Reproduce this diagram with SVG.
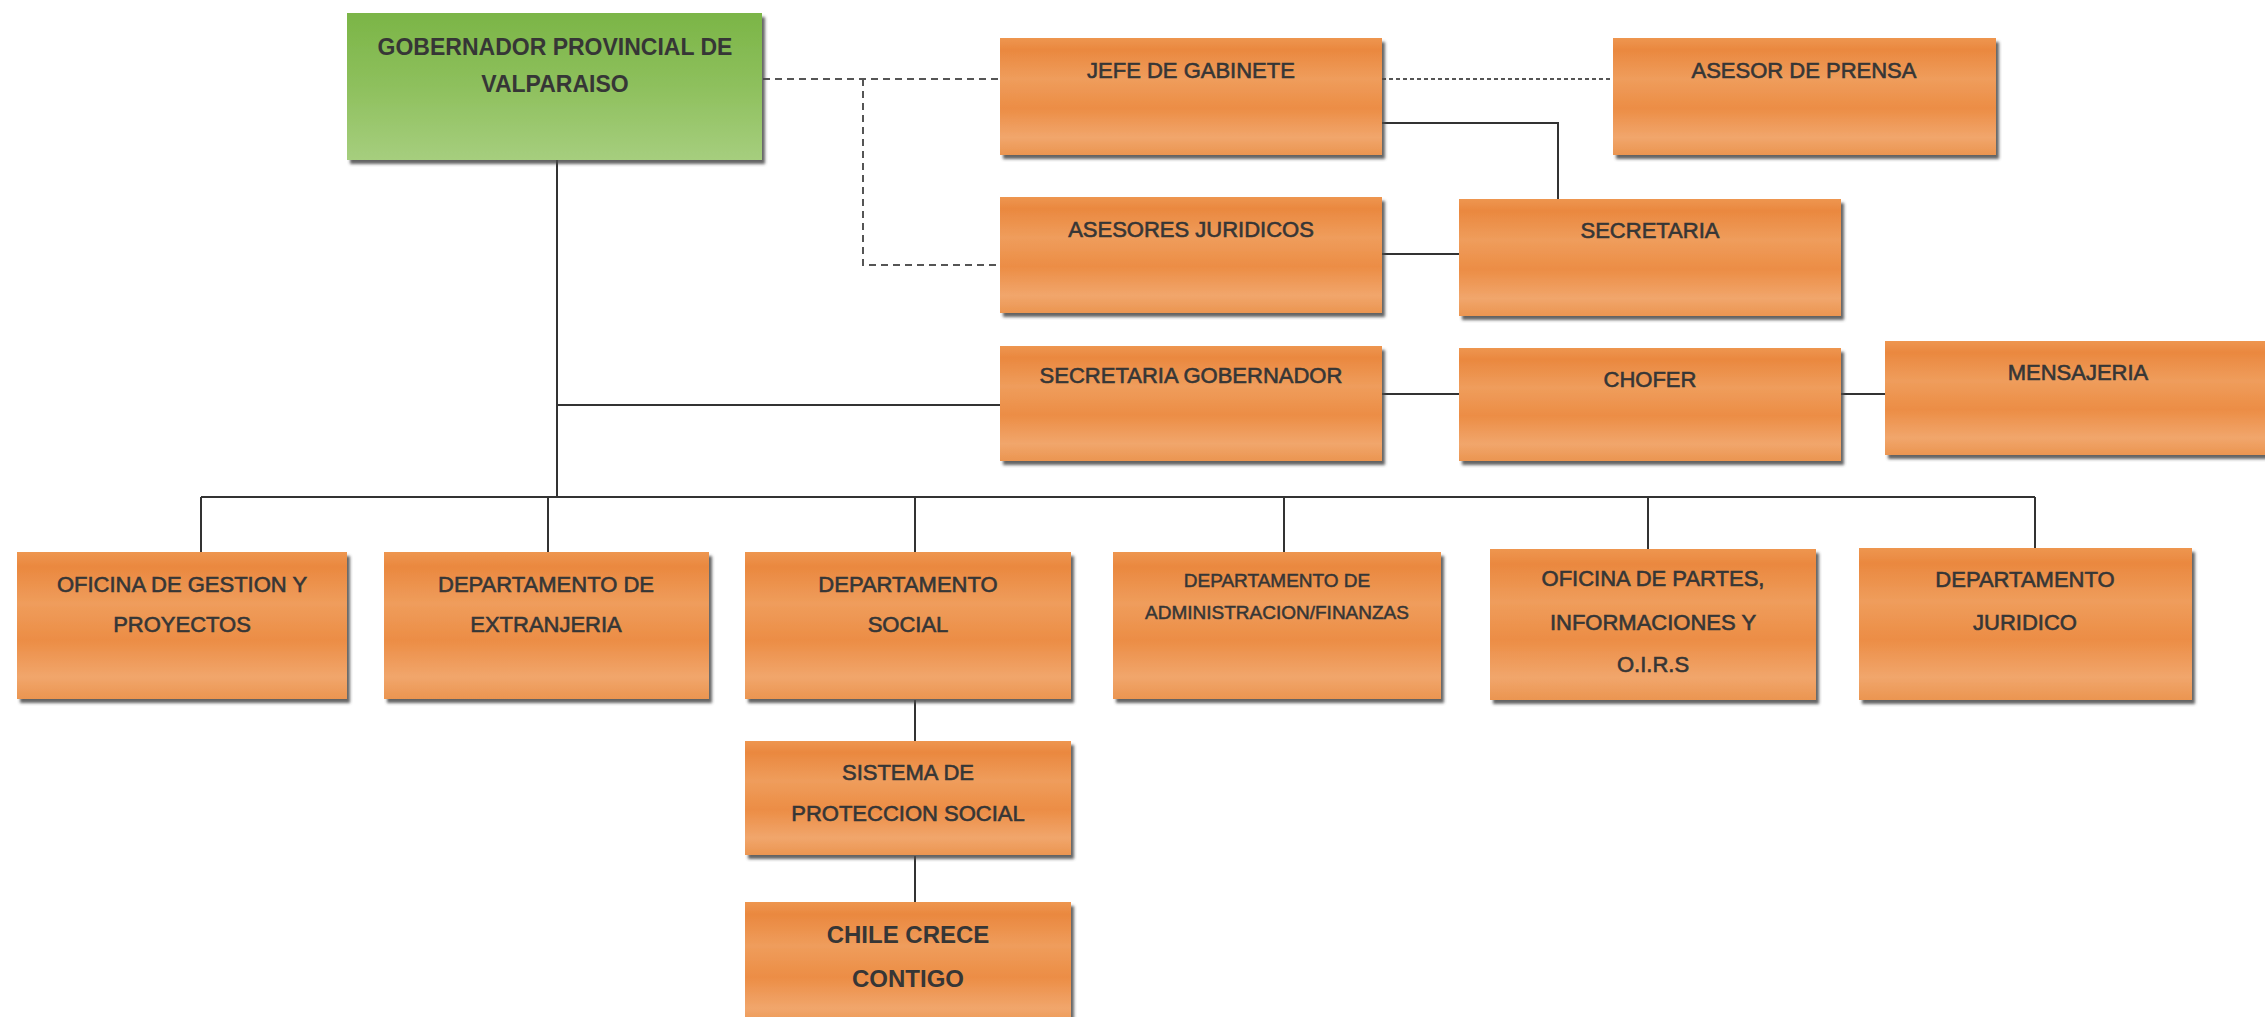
<svg xmlns="http://www.w3.org/2000/svg" width="2265" height="1017" viewBox="0 0 2265 1017">
<defs>
<linearGradient id="og" x1="0" y1="0" x2="0" y2="1">
<stop offset="0" stop-color="#EE9650"/>
<stop offset="0.1" stop-color="#EA883F"/>
<stop offset="0.35" stop-color="#EF9D5C"/>
<stop offset="0.6" stop-color="#EC8D45"/>
<stop offset="0.85" stop-color="#F1A66C"/>
<stop offset="1" stop-color="#EB9550"/>
</linearGradient>
<linearGradient id="gg" x1="0" y1="0" x2="0" y2="1">
<stop offset="0" stop-color="#7BB547"/>
<stop offset="0.5" stop-color="#8EC05D"/>
<stop offset="1" stop-color="#A6CE7E"/>
</linearGradient>
<filter id="sh" x="-5%" y="-5%" width="115%" height="120%">
<feDropShadow dx="3" dy="4" stdDeviation="1.5" flood-color="#4a4a4a" flood-opacity="0.85"/>
</filter>
</defs>
<style>
.box{fill:url(#og);filter:url(#sh)}
.gbox{fill:url(#gg);filter:url(#sh)}
text{font-family:"Liberation Sans",Arial,sans-serif;fill:#363636;text-anchor:middle}
.t{font-size:22px;stroke:#363636;stroke-width:0.6px}
.s{font-size:19px;stroke:#363636;stroke-width:0.5px}
.b{font-size:23px;font-weight:bold}
.c{font-size:24px;font-weight:bold}
.ln{stroke:#333;stroke-width:2;fill:none}
.dl{stroke:#555;stroke-width:2;fill:none;stroke-dasharray:7 5}
.dl2{stroke:#555;stroke-width:2;fill:none;stroke-dasharray:4 3}
</style>
<rect width="2265" height="1017" fill="#ffffff"/>
<g id="connectors">
<path class="ln" d="M557 160 V497"/>
<path class="ln" d="M557 405 H1000"/>
<path class="ln" d="M201 497 H2035"/>
<path class="ln" d="M201 497 V552 M548 497 V552 M915 497 V552 M1284 497 V552 M1648 497 V549 M2035 497 V548"/>
<path class="ln" d="M915 700 V741 M915 856 V902"/>
<path class="dl" d="M763 79 H1000 M863 79 V265 H1000"/>
<path class="dl2" d="M1382 79 H1613"/>
<path class="ln" d="M1382 123 H1558 V199"/>
<path class="ln" d="M1382 254 H1459"/>
<path class="ln" d="M1382 394 H1459"/>
<path class="ln" d="M1841 394 H1885"/>
</g>
<g id="gobernador"><rect class="gbox" x="347" y="13" width="415" height="147"/><text class="b" x="555" y="55">GOBERNADOR PROVINCIAL DE</text><text class="b" x="555" y="92">VALPARAISO</text></g>
<g id="jefe"><rect class="box" x="1000" y="38" width="382" height="117"/><text class="t" x="1191" y="78">JEFE DE GABINETE</text></g>
<g id="prensa"><rect class="box" x="1613" y="38" width="383" height="117"/><text class="t" x="1804" y="78">ASESOR DE PRENSA</text></g>
<g id="asesores"><rect class="box" x="1000" y="197" width="382" height="116"/><text class="t" x="1191" y="237">ASESORES JURIDICOS</text></g>
<g id="secretaria"><rect class="box" x="1459" y="199" width="382" height="117"/><text class="t" x="1650" y="238">SECRETARIA</text></g>
<g id="secgob"><rect class="box" x="1000" y="346" width="382" height="115"/><text class="t" x="1191" y="383">SECRETARIA GOBERNADOR</text></g>
<g id="chofer"><rect class="box" x="1459" y="348" width="382" height="113"/><text class="t" x="1650" y="387">CHOFER</text></g>
<g id="mensajeria"><rect class="box" x="1885" y="341" width="390" height="114"/><text class="t" x="2078" y="380">MENSAJERIA</text></g>
<g id="gestion"><rect class="box" x="17" y="552" width="330" height="147"/><text class="t" x="182" y="592">OFICINA DE GESTION Y</text><text class="t" x="182" y="632">PROYECTOS</text></g>
<g id="extranjeria"><rect class="box" x="384" y="552" width="325" height="147"/><text class="t" x="546" y="592">DEPARTAMENTO DE</text><text class="t" x="546" y="632">EXTRANJERIA</text></g>
<g id="social"><rect class="box" x="745" y="552" width="326" height="147"/><text class="t" x="908" y="592">DEPARTAMENTO</text><text class="t" x="908" y="632">SOCIAL</text></g>
<g id="administracion"><rect class="box" x="1113" y="552" width="328" height="147"/><text class="s" x="1277" y="587">DEPARTAMENTO DE</text><text class="s" x="1277" y="619">ADMINISTRACION/FINANZAS</text></g>
<g id="partes"><rect class="box" x="1490" y="549" width="326" height="151"/><text class="t" x="1653" y="586">OFICINA DE PARTES,</text><text class="t" x="1653" y="630">INFORMACIONES Y</text><text class="t" x="1653" y="672">O.I.R.S</text></g>
<g id="juridico"><rect class="box" x="1859" y="548" width="333" height="152"/><text class="t" x="2025" y="587">DEPARTAMENTO</text><text class="t" x="2025" y="630">JURIDICO</text></g>
<g id="sistema"><rect class="box" x="745" y="741" width="326" height="114"/><text class="t" x="908" y="780">SISTEMA DE</text><text class="t" x="908" y="821">PROTECCION SOCIAL</text></g>
<g id="chile"><rect class="box" x="745" y="902" width="326" height="125"/><text class="c" x="908" y="943">CHILE CRECE</text><text class="c" x="908" y="987">CONTIGO</text></g>
</svg>
